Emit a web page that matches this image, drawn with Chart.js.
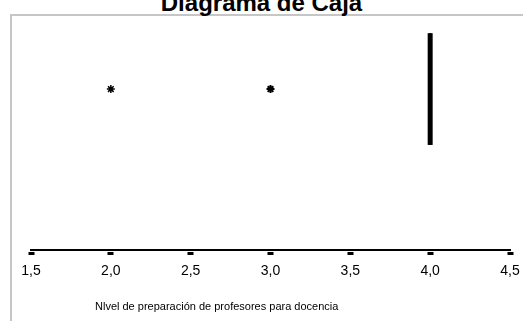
<!DOCTYPE html>
<html>
<head>
<meta charset="utf-8">
<script src="https://cdn.jsdelivr.net/npm/chart.js@4.4.1/dist/chart.umd.min.js"></script>
<style>
  html, body { margin: 0; padding: 0; background: #fff; }
  body { width: 523px; height: 321px; overflow: hidden; position: relative; font-family: "Liberation Sans", Arial, sans-serif; }
  .frame { position: absolute; left: 10px; top: 14px; width: 700px; height: 500px; border-left: 2px solid #c6c6c6; border-top: 2px solid #c6c6c6; }
  #title { position: absolute; left: 0; width: 523px; top: -9px; line-height: 24px; text-align: center; font-weight: bold; font-size: 24px; color: #000; }
  #xtitle { position: absolute; left: 95px; top: 299px; line-height: 14px; font-size: 11px; color: #000; white-space: nowrap; }
  canvas { position: absolute; left: 0; top: 0; }
</style>
</head>
<body>
<div class="frame"></div>
<div id="title">Diagrama de Caja</div>
<canvas id="boxChart" width="523" height="321"></canvas>
<div id="xtitle">Nlvel de preparación de profesores para docencia</div>
<script>
// valores
const outliers = [2.0, 3.0];
const q1 = 4.0;
const median = 4.0;
const q3 = 4.0;
const xTicks = [1.5, 2.0, 2.5, 3.0, 3.5, 4.0, 4.5];

document.addEventListener('DOMContentLoaded', function() {
    const ctx = document.getElementById('boxChart').getContext('2d');
    const half = 0.5; // media altura de la caja (unidades del eje y)

    new Chart(ctx, {
        type: 'scatter',
        data: {
            datasets: [
                {
                    // caja (q1 - q3)
                    type: 'line',
                    data: [
                        { x: q1, y: -half }, { x: q1, y: half },
                        { x: q3, y: half }, { x: q3, y: -half }, { x: q1, y: -half }
                    ],
                    borderColor: '#000',
                    borderWidth: 2,
                    pointRadius: 0,
                    fill: false
                },
                {
                    // mediana
                    type: 'line',
                    data: [{ x: median, y: -half }, { x: median, y: half }],
                    borderColor: '#000',
                    borderWidth: 5,
                    pointRadius: 0,
                    fill: false
                },
                {
                    // valores atípicos
                    data: outliers.map(v => ({ x: v, y: 0 })),
                    pointStyle: 'star',
                    pointRadius: 4,
                    pointBorderWidth: [1.5, 2],
                    borderColor: '#000',
                    backgroundColor: '#000'
                }
            ]
        },
        options: {
            responsive: false,
            animation: false,
            layout: { padding: { left: 31, right: 13, top: 22, bottom: 0 } },
            plugins: {
                legend: { display: false },
                tooltip: { enabled: false }
            },
            scales: {
                x: {
                    type: 'linear',
                    min: xTicks[0],
                    max: xTicks[xTicks.length - 1],
                    afterBuildTicks: function(scale) {
                        scale.ticks = xTicks.map(v => ({ value: v }));
                    },
                    afterFit: function(scale) { scale.height = 71; },
                    border: { display: true, color: '#000', width: 2 },
                    grid: {
                        drawOnChartArea: false,
                        drawTicks: true,
                        tickLength: 12,
                        tickWidth: 6,
                        tickColor: '#000',
                        tickBorderDash: [0, 1, 3, 20]
                    },
                    ticks: {
                        color: '#000',
                        padding: 1,
                        maxRotation: 0,
                        font: { family: '"Liberation Sans", Arial', size: 14 },
                        callback: function(value) { return value.toFixed(1).replace('.', ','); }
                    }
                },
                y: {
                    display: false,
                    min: -1.44,
                    max: 0.6
                }
            }
        }
    });
});
</script>
</body>
</html>
